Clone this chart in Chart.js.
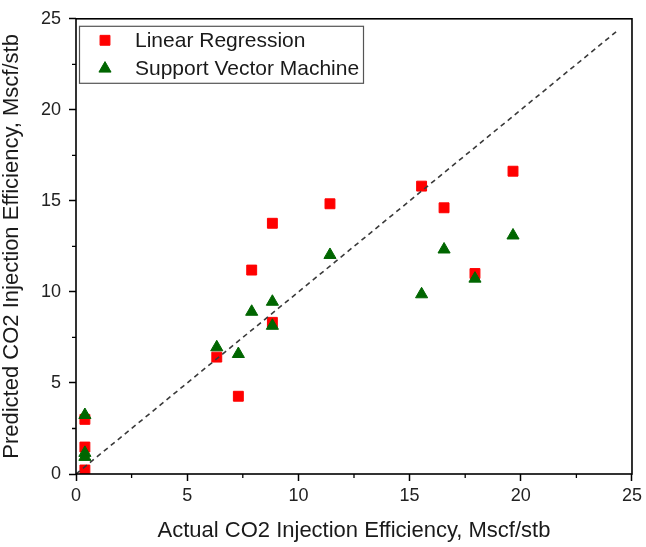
<!DOCTYPE html>
<html><head><meta charset="utf-8">
<script src="https://cdn.jsdelivr.net/npm/chart.js@4.4.0/dist/chart.umd.min.js"></script>
<style>html,body{margin:0;padding:0;background:#fff;}#wrap{width:646px;height:547px;}</style>
</head><body><div id="wrap"><canvas id="c" width="646" height="547"></canvas></div>
<script>
// ---- data ----
const actual  = [0.40, 0.40, 0.40, 6.33, 7.30, 7.90, 8.83, 8.83, 11.42, 15.54, 16.55, 17.94, 19.65];
const predLR  = [0.22, 1.48, 3.00, 6.42, 4.27, 11.20, 8.33, 13.77, 14.84, 15.81, 14.62, 11.01, 16.63];
const predSVM = [0.94, 1.16, 3.24, 6.96, 6.59, 8.91, 8.14, 9.46, 12.03, 9.87, 12.33, 10.73, 13.10];
const refLineX = [0, 24.3];
const refLineY = [0, 24.3];
const seriesNames = ['Linear Regression', 'Support Vector Machine'];
const majorTicks = [0, 5, 10, 15, 20, 25];
const minorTicks = [2.5, 7.5, 12.5, 17.5, 22.5];
const axisTitleX = 'Actual CO2 Injection Efficiency, Mscf/stb';
const axisTitleY = 'Predicted CO2 Injection Efficiency, Mscf/stb';

const FONT = '"Liberation Sans", Arial, sans-serif';
const RED = '#ff0000';
const GREEN = '#006600';

const pts = (xs, ys) => xs.map((v, i) => ({x: v, y: ys[i]}));

const lrData = pts(actual, predLR);
const svmData = pts(actual, predSVM);
const lineData = pts(refLineX, refLineY);

const framePlugin = {
  id: 'frameAndLegend',
  afterDraw(chart) {
    const {ctx, chartArea: a, scales} = chart;
    const sx = scales.x, sy = scales.y;
    ctx.save();
    // frame
    ctx.strokeStyle = '#000';
    ctx.lineWidth = 1.6;
    ctx.strokeRect(a.left, a.top, a.right - a.left, a.bottom - a.top);
    // minor ticks
    ctx.lineWidth = 1.3;
    ctx.beginPath();
    minorTicks.forEach(v => {
      const px = sx.getPixelForValue(v);
      ctx.moveTo(px, a.bottom); ctx.lineTo(px, a.bottom + 4);
      const py = sy.getPixelForValue(v);
      ctx.moveTo(a.left, py); ctx.lineTo(a.left - 4, py);
    });
    ctx.stroke();
    // legend
    const lx = a.left + 3, ly = a.top + 7, lw = 284, lh = 57;
    ctx.strokeStyle = '#555';
    ctx.lineWidth = 1.2;
    ctx.strokeRect(lx + 0.5, ly + 0.5, lw, lh);
    const rows = [chart.data.datasets[2], chart.data.datasets[1]];
    ctx.font = '21px ' + FONT;
    ctx.textBaseline = 'middle';
    ctx.textAlign = 'left';
    rows.forEach((ds, i) => {
      const cy = ly + 14.5 + i * 28.3;
      const cx = lx + 26;
      const r = ds.pointRadius;
      ctx.fillStyle = ds.backgroundColor;
      ctx.strokeStyle = ds.borderColor;
      ctx.lineWidth = ds.borderWidth;
      ctx.beginPath();
      if (ds.pointStyle === 'rect') {
        const s = r * Math.SQRT1_2;
        ctx.rect(cx - s, cy - s, 2 * s, 2 * s);
      } else {
        ctx.moveTo(cx, cy - r);
        ctx.lineTo(cx + r * Math.sin(2 * Math.PI / 3), cy - r * Math.cos(2 * Math.PI / 3));
        ctx.lineTo(cx + r * Math.sin(4 * Math.PI / 3), cy - r * Math.cos(4 * Math.PI / 3));
        ctx.closePath();
      }
      ctx.fill();
      ctx.stroke();
      ctx.fillStyle = '#1a1a1a';
      ctx.fillText(ds.label, lx + 56, cy + 0.5);
    });
    ctx.restore();
  }
};

const axisCommon = (title, isX) => ({
  type: 'linear',
  min: 0, max: 25,
  afterBuildTicks: (scale) => { scale.ticks = majorTicks.map(v => ({value: v})); },
  border: {display: false},
  grid: {display: true, drawOnChartArea: false, drawTicks: true, tickLength: 7,
         tickColor: '#000', tickWidth: 1.5, color: '#000'},
  ticks: {color: '#222', font: {family: FONT, size: 18}, padding: isX ? 4 : 8,
          maxRotation: 0, autoSkip: false},
  title: {display: true, text: title, color: '#1a1a1a',
          font: {family: FONT, size: 22, lineHeight: 1},
          padding: isX ? {top: 0, bottom: 5} : {top: 1, bottom: 0}},
  afterFit: (scale) => { if (isX) scale.height = 73; else scale.width = 76; }
});

new Chart(document.getElementById('c'), {
  type: 'scatter',
  data: {
    datasets: [
      {type: 'line', label: 'y = x', data: lineData, borderColor: '#3a3a3a', borderWidth: 1.6,
       borderDash: [5, 4], pointRadius: 0, fill: false, showLine: true},
      {label: seriesNames[1], data: svmData, pointStyle: 'triangle', pointRadius: 7,
       backgroundColor: GREEN, borderColor: GREEN, borderWidth: 1},
      {label: seriesNames[0], data: lrData, pointStyle: 'rect', pointRadius: 7,
       backgroundColor: RED, borderColor: RED, borderWidth: 1}
    ]
  },
  options: {
    responsive: false,
    devicePixelRatio: 1,
    animation: false,
    layout: {padding: {top: 17, right: 14, left: 0, bottom: 0}},
    plugins: {legend: {display: false}, tooltip: {enabled: false}},
    scales: {
      x: axisCommon(axisTitleX, true),
      y: axisCommon(axisTitleY, false)
    }
  },
  plugins: [framePlugin]
});
</script>
</body></html>
